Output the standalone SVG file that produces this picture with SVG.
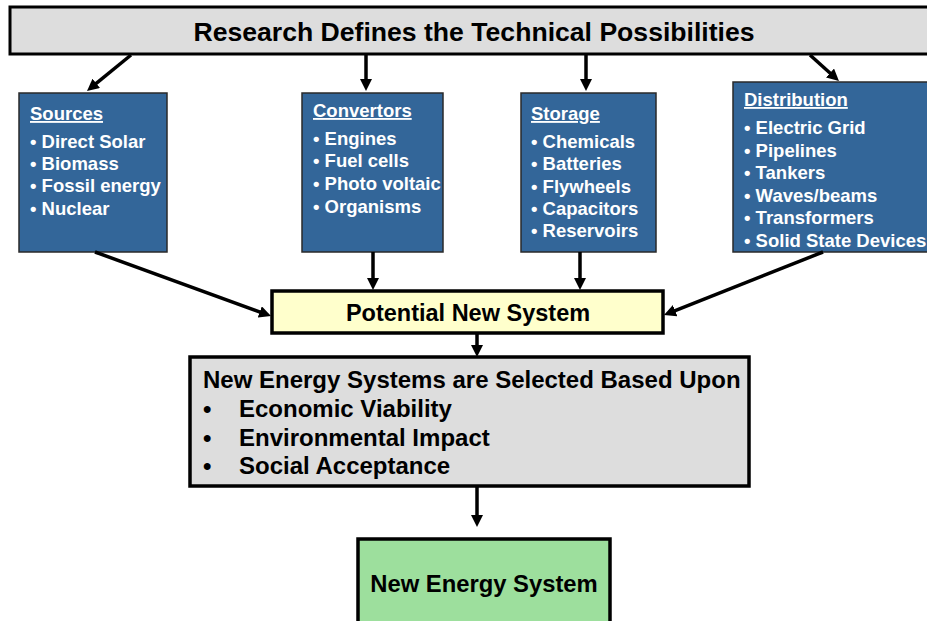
<svg xmlns="http://www.w3.org/2000/svg" width="927" height="621" viewBox="0 0 927 621">
<style>
text{font-family:"Liberation Sans",Arial,sans-serif;font-weight:bold}
.blue rect{fill:#336699;stroke:#2a2a2a;stroke-width:1.5}
.blue text{fill:#ffffff;font-size:18.5px}
.hd{text-decoration:underline}
.con line{stroke:#000;stroke-width:3.5;marker-end:url(#ah)}
.big{font-size:24px;fill:#000}
</style>
<defs>
<marker id="ah" markerUnits="userSpaceOnUse" viewBox="0 0 12 12" markerWidth="12" markerHeight="12" refX="4" refY="6" orient="auto">
<path d="M0,0 L12,6 L0,12 z" fill="#000"/>
</marker>
</defs>
<g id="research">
<rect x="10" y="7" width="930" height="47" fill="#dddddd" stroke="#000" stroke-width="3"/>
<text x="474" y="41" text-anchor="middle" style="font-size:26.6px">Research Defines the Technical Possibilities</text>
</g>
<g id="sources" class="blue">
<rect x="19" y="93" width="148" height="159"/>
<text x="30" y="120" class="hd">Sources</text>
<text x="30" y="148">• Direct Solar</text>
<text x="30" y="170">• Biomass</text>
<text x="30" y="192">• Fossil energy</text>
<text x="30" y="215">• Nuclear</text>
</g>
<g id="convertors" class="blue">
<rect x="302" y="93" width="141" height="159"/>
<text x="313" y="117" class="hd">Convertors</text>
<text x="313" y="145">• Engines</text>
<text x="313" y="167">• Fuel cells</text>
<text x="313" y="190">• Photo voltaic</text>
<text x="313" y="213">• Organisms</text>
</g>
<g id="storage" class="blue">
<rect x="521" y="93" width="135" height="159"/>
<text x="531" y="120" class="hd">Storage</text>
<text x="531" y="148">• Chemicals</text>
<text x="531" y="170">• Batteries</text>
<text x="531" y="193">• Flywheels</text>
<text x="531" y="215">• Capacitors</text>
<text x="531" y="237">• Reservoirs</text>
</g>
<g id="distribution" class="blue">
<rect x="733" y="82" width="200" height="170"/>
<text x="744" y="106" class="hd">Distribution</text>
<text x="744" y="134">• Electric Grid</text>
<text x="744" y="157">• Pipelines</text>
<text x="744" y="179">• Tankers</text>
<text x="744" y="202">• Waves/beams</text>
<text x="744" y="224">• Transformers</text>
<text x="744" y="247">• Solid State Devices</text>
</g>
<g id="potential">
<rect x="272" y="291" width="391" height="42" fill="#ffffcc" stroke="#000" stroke-width="3.5"/>
<text x="468" y="321" text-anchor="middle" class="big" style="font-size:23.5px">Potential New System</text>
</g>
<g id="selection">
<rect x="190" y="357" width="559" height="129" fill="#dddddd" stroke="#000" stroke-width="3.5"/>
<text x="203" y="388" class="big">New Energy Systems are Selected Based Upon</text>
<text x="203" y="417" class="big">•</text>
<text x="239" y="417" class="big">Economic Viability</text>
<text x="203" y="446" class="big">•</text>
<text x="239" y="446" class="big">Environmental Impact</text>
<text x="203" y="474" class="big">•</text>
<text x="239" y="474" class="big">Social Acceptance</text>
</g>
<g id="newsystem">
<rect x="358" y="539" width="252" height="100" fill="#9ddf9d" stroke="#000" stroke-width="3.5"/>
<text x="484" y="592" text-anchor="middle" style="font-size:23.8px">New Energy System</text>
</g>
<g id="connectors" class="con">
<line x1="131" y1="55" x2="93.2" y2="85.9"/>
<line x1="366" y1="54" x2="366" y2="83"/>
<line x1="586" y1="54" x2="586" y2="83"/>
<line x1="810" y1="55" x2="833" y2="75.7"/>
<line x1="95" y1="252" x2="263.5" y2="313.3"/>
<line x1="373" y1="252" x2="373" y2="282"/>
<line x1="580" y1="252" x2="580" y2="282"/>
<line x1="823" y1="252" x2="671.4" y2="312.1"/>
<line x1="477" y1="333" x2="477" y2="349"/>
<line x1="477" y1="486" x2="477" y2="519"/>
</g>
</svg>
